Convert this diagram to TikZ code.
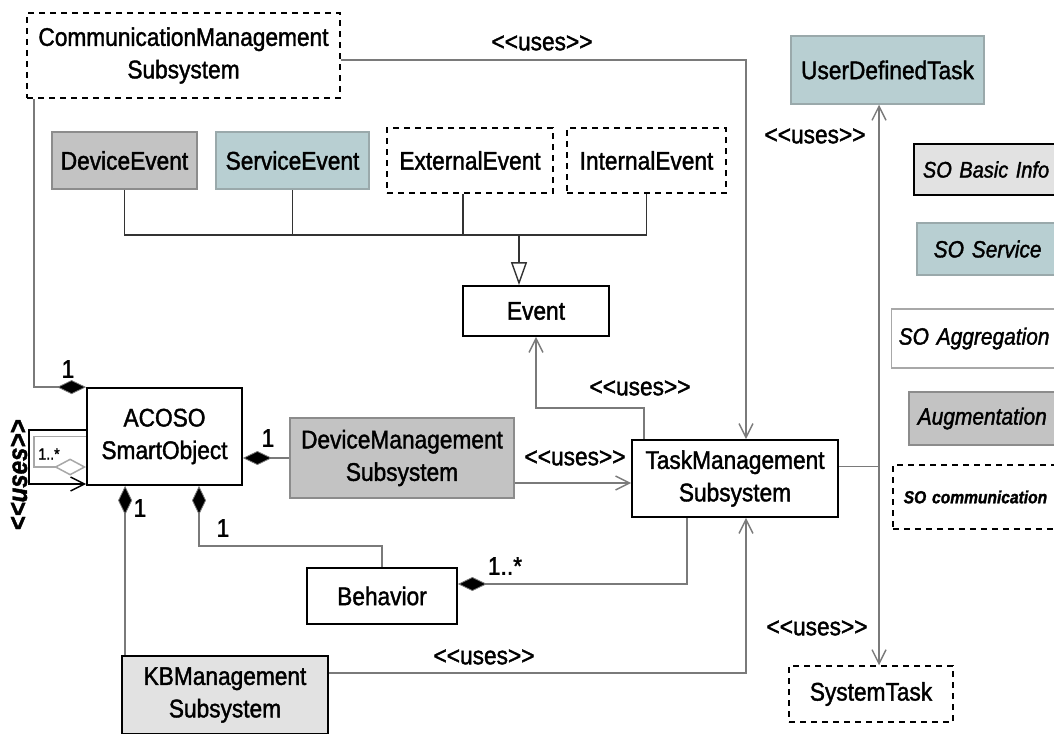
\documentclass[tikz,border=0pt]{standalone}
\usepackage{fontspec}
\setmainfont{Liberation Sans}[FakeStretch=0.89, FakeBold=1.5]
\usetikzlibrary{arrows.meta,calc}

\definecolor{grayfill}{HTML}{C3C3C3}
\definecolor{graydraw}{HTML}{8C8C8C}
\definecolor{tealfill}{HTML}{B8CFD2}
\definecolor{tealdraw}{HTML}{9AA9AB}
\definecolor{lightfill}{HTML}{E2E2E2}
\definecolor{linegray}{HTML}{7A7A7A}
\definecolor{loopgray}{HTML}{A8A8A8}

\begin{document}
\begin{tikzpicture}[x=1pt,y=-1pt,
  txt/.style={font=\fontsize{25.5}{32.5}\selectfont},
  box/.style={txt, draw=black, line width=1.8pt, fill=white, align=center, inner sep=0pt},
  wh/.style 2 args={minimum width=#1pt, minimum height=#2pt},
  dbox/.style={box, dash pattern=on 6pt off 5pt, line width=1.5pt},
  gbox/.style={box, fill=grayfill, draw=graydraw, line width=1.5pt},
  tbox/.style={box, fill=tealfill, draw=tealdraw, line width=1.5pt},
  lbox/.style={box, fill=lightfill},
  legend/.style={anchor=west, align=left, inner ysep=0pt, font=\fontsize{23.5}{27}\selectfont\itshape},
  gline/.style={draw=linegray, line width=1.6pt},
  tline/.style={draw=black!80, line width=1.4pt},
  bline/.style={draw=black, line width=1.6pt},
  barb/.tip={Straight Barb[length=14pt, width=14pt, line width=1.4pt]},
  comp/.tip={Diamond[length=29pt, width=14pt, fill=black, line width=0.8pt]},
  agg/.tip={Diamond[open, length=32pt, width=17pt, line width=1.5pt]},
  gen/.tip={Triangle[open, length=23pt, width=16pt, line width=1.4pt]},
  lab/.style={txt, inner sep=0pt}
]
\useasboundingbox (0,0) rectangle (1054,733);
\clip (0,0) rectangle (1054,733);

% classes
\node[dbox, wh={313}{85}] (CM) at (183.5,55.5) {CommunicationManagement\\Subsystem};
\node[gbox, wh={145}{57}] (DE) at (124.5,160.5) {DeviceEvent};
\node[tbox, wh={153}{57}] (SE) at (292.5,160.5) {ServiceEvent};
\node[dbox, wh={166}{65}] (EE) at (470,160.5) {ExternalEvent};
\node[dbox, wh={159}{65}] (IE) at (646.5,160.5) {InternalEvent};
\node[box, wh={146}{50}] (Ev) at (536,311) {Event};
\node[tbox, wh={193}{68}] (UDT) at (887.5,70) {UserDefinedTask};
\node[box, wh={155}{97}] (AC) at (164.5,436.5) {ACOSO\\SmartObject};
\node[gbox, wh={224}{80}] (DM) at (402,458) {DeviceManagement\\Subsystem};
\node[box, wh={206}{77}] (TM) at (735,478.5) {TaskManagement\\Subsystem};
\node[box, wh={150}{56}] (BH) at (382,596) {Behavior};
\node[lbox, wh={206}{78}] (KB) at (225,695) {KBManagement\\Subsystem};
\node[dbox, wh={164}{56}] (ST) at (871,694) {SystemTask};

% legend
\node[lbox, legend, minimum height=51pt, text width=150pt, inner xsep=9pt,
      font=\fontsize{22.5}{27}\selectfont\itshape] (L1) at (913,169.5) {SO Basic Info};
\node[tbox, legend, minimum height=52pt, text width=150pt, inner xsep=17pt] (L2) at (916,249) {SO Service};
\node[box, legend, draw=loopgray, line width=1.4pt, minimum height=59pt, text width=160pt, inner xsep=7pt] (L3) at (891,338.5) {SO Aggregation};
\node[gbox, legend, minimum height=53pt, text width=150pt, inner xsep=9pt] (L4) at (908,418.5) {Augmentation};
\node[dbox, legend, minimum height=64pt, text width=160pt, inner xsep=11pt,
      font=\fontsize{17.5}{21}\selectfont\itshape\bfseries] (L5) at (892,497) {SO communication};

% generalisation tree of events
\coordinate (bar) at (519,235);
\coordinate (eex) at (463,0);
\draw[tline] (DE.south) -- (DE.south |- bar) -- (IE.south |- bar) -- (IE.south);
\draw[tline] (SE.south) -- (SE.south |- bar);
\draw[tline] (EE.south -| eex) -- (eex |- bar);
\draw[tline, -gen] (bar) -- (bar |- Ev.north);

% communication subsystem
\draw[gline, comp-] (AC.north west) -| ([xshift=8pt]CM.south west);
\node[lab] (n1) at (68,369) {1};
\draw[gline, -barb] ([yshift=-4.5pt]CM.east) -| ([xshift=11pt]TM.north);
\node[lab] (u1) at (542,43) {<{}<uses>{}>};

% task management uses event
\draw[gline, -barb] ([xshift=13pt]TM.north west) |- ($(Ev.south)+(0,71)$) -- (Ev.south);
\node[lab] (u2) at (640,388) {<{}<uses>{}>};

% device management
\draw[gline, -comp] (DM.west) -- (DM.west -| AC.east);
\node[lab] (n2) at (268,438) {1};
\draw[gline, -barb] ([yshift=-25pt]DM.east) -- ([yshift=-25pt]DM.east -| TM.west);
\node[lab] (u3) at (575,458) {<{}<uses>{}>};

% knowledge base
\draw[gline, -comp] ([xshift=4pt]KB.north west) -- ([xshift=4pt]KB.north west |- AC.south);
\node[lab] (n3) at (140,508) {1};
\draw[gline, -barb] ([yshift=22pt]KB.east) -| ([xshift=11pt]TM.south);
\node[lab] (u4) at (484,657) {<{}<uses>{}>};

% behaviour
\draw[gline, -comp] (BH.north) -- ++(0,-21) -| ([xshift=34.5pt]AC.south);
\node[lab] (n4) at (223,528) {1};
\draw[gline, -comp] ([xshift=-48pt]TM.south) |- ([yshift=12pt]BH.east);
\node[lab] (n5) at (505,566) {1..*};

% tasks
\coordinate (J) at (879,466.5);
\draw[gline] ([yshift=12pt]TM.east) -- (J);
\draw[gline, -barb] (J) -- (J |- UDT.south);
\draw[gline, -barb] (J) -- (J |- ST.north);
\node[lab] (u5) at (815,136) {<{}<uses>{}>};
\node[lab] (u6) at (817,628) {<{}<uses>{}>};

% self associations of the smart object
\draw[bline, -barb] ([yshift=6.5pt]AC.west) -- ++(-57,0) |- ([yshift=-47.5pt]AC.west);
\draw[gline, draw=loopgray, -agg] (AC.west) -- ++(-52,0) |- ([yshift=-30.5pt]AC.west);
\node[inner sep=0pt, font=\fontsize{16}{18}\selectfont] (n6) at (49,454) {1..*};
\node[inner sep=0pt, rotate=90, font=\fontsize{27}{30}\selectfont\bfseries\itshape] (u7) at (19,475) {<{}<uses>{}>};
\end{tikzpicture}
\end{document}
